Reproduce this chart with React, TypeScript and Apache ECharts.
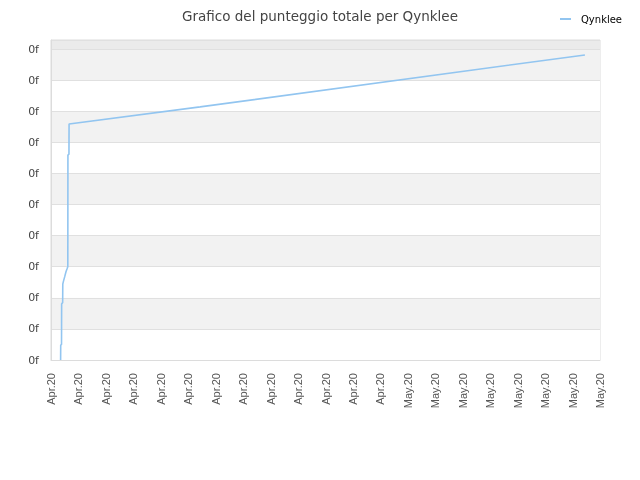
import React, { useEffect, useRef } from "react";
import * as echarts from "echarts";

const chartTitle = "Grafico del punteggio totale per Qynklee";
const seriesName = "Qynklee";
const axisStart = "2020-04-01T00:00:00Z";
const axisDays = 48;
const tickDays = 2.4;
const monthNames = ["Jan", "Feb", "Mar", "Apr", "May", "Jun", "Jul", "Aug", "Sep", "Oct", "Nov", "Dec"];
const yLabel = "0f";

const times = [
  "2020-04-01T20:10:00Z",
  "2020-04-01T20:24:00Z",
  "2020-04-01T22:05:00Z",
  "2020-04-01T22:19:00Z",
  "2020-04-02T00:29:00Z",
  "2020-04-02T00:43:00Z",
  "2020-04-02T01:55:00Z",
  "2020-04-02T04:48:00Z",
  "2020-04-02T07:26:00Z",
  "2020-04-02T10:05:00Z",
  "2020-04-02T11:17:00Z",
  "2020-04-02T11:31:00Z",
  "2020-04-02T13:41:00Z",
  "2020-04-02T13:55:00Z",
  "2020-04-14T00:58:00Z",
  "2020-05-17T16:19:00Z",
];
const scores = [0.0, 0.48, 0.5, 1.8, 1.85, 2.44, 2.52, 2.68, 2.84, 2.95, 3.0, 6.59, 6.62, 7.59, 8.14, 9.81];

const DAY = 86400000;
const startMs = Date.parse(axisStart);

export default function App() {
  const ref = useRef<HTMLDivElement>(null);
  useEffect(() => {
    if (!ref.current) return;
    const chart = echarts.init(ref.current, undefined, { renderer: "svg" });
    const data = times.map((t, i) => [(Date.parse(t) - startMs) / DAY, scores[i]]);
    const areaColors = [];
    for (let i = 0; i < 10; i++) areaColors.push(i % 2 === 0 ? "#ffffff" : "#f2f2f2");
    areaColors.push("#ebebeb");
    chart.setOption({
      animation: false,
      title: {
        text: chartTitle,
        left: "center",
        top: 4,
        textStyle: { fontFamily: "DejaVu Sans", fontSize: 13.5, fontWeight: "normal", color: "#444" },
      },
      legend: {
        data: [{ name: seriesName, icon: "rect" }],
        left: 555,
        top: 9,
        itemWidth: 11,
        itemHeight: 2,
        textStyle: { fontFamily: "DejaVu Sans", fontSize: 10, color: "#000", padding: [0, 0, 0, 5] },
      },
      grid: {
        left: 51,
        right: 40,
        top: 40,
        bottom: 120,
        show: true,
        borderColor: "#dcdcdc",
        borderWidth: 1,
        backgroundColor: "transparent",
      },
      xAxis: {
        type: "value",
        min: 0,
        max: axisDays,
        interval: tickDays,
        axisLine: { show: true, lineStyle: { color: "#dcdcdc" } },
        axisTick: { show: false },
        splitLine: { show: false },
        axisLabel: {
          rotate: 90,
          margin: 13,
          fontFamily: "Liberation Sans",
          fontSize: 11,
          color: "#555",
          showMinLabel: true,
          showMaxLabel: true,
          formatter: (v: number) => {
            const d = new Date(startMs + v * DAY + 1000);
            return monthNames[d.getUTCMonth()] + "." + String(d.getUTCFullYear()).slice(2);
          },
        },
      },
      yAxis: {
        type: "value",
        min: 0,
        max: 10.29,
        interval: 1,
        axisLine: { show: true, lineStyle: { color: "#dcdcdc" } },
        axisTick: { show: false },
        splitLine: { show: true, lineStyle: { color: "#e0e0e0" } },
        splitArea: { show: true, areaStyle: { color: areaColors } },
        axisLabel: {
          showMaxLabel: false,
          margin: 12,
          fontFamily: "DejaVu Sans",
          fontSize: 11,
          color: "#444",
          formatter: () => yLabel,
        },
      },
      series: [
        {
          name: seriesName,
          type: "line",
          data,
          showSymbol: false,
          symbol: "none",
          color: "#92c5f0",
          lineStyle: { color: "#92c5f0", width: 1.6 },
        },
      ],
    });
    return () => chart.dispose();
  }, []);
  return <div ref={ref} style={{ position: "fixed", left: 0, top: 0, width: 640, height: 480 }} />;
}
